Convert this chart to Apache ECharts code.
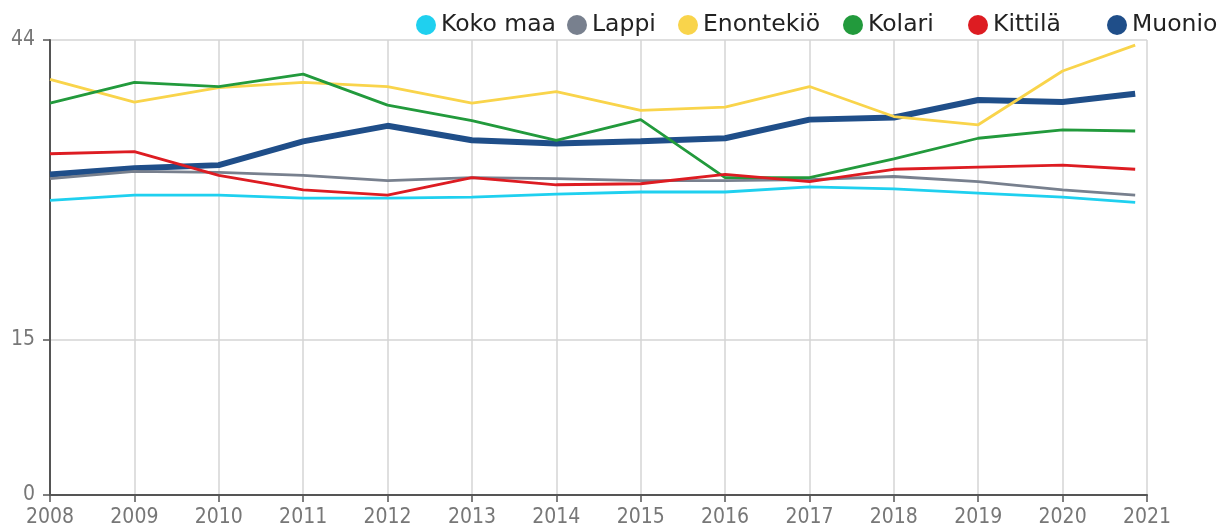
<!DOCTYPE html>
<html>
<head>
<meta charset="utf-8">
<script src="https://cdn.jsdelivr.net/npm/echarts@6/dist/echarts.min.js"></script>
<style>
  html, body { margin: 0; padding: 0; background: #fff; }
  #chart { width: 1229px; height: 528px; }
</style>
</head>
<body>
<div id="chart"></div>
<script>
// vuodet (akselin tikit) ja datapisteiden x-arvot
const years = [2008, 2009, 2010, 2011, 2012, 2013, 2014, 2015, 2016, 2017, 2018, 2019, 2020, 2021];
const pointYears = [2008, 2009, 2010, 2011, 2012, 2013, 2014, 2015, 2016, 2017, 2018, 2019, 2020, 2020.86];
const yTicks = [0, 15, 44];

const kokoMaa   = [28.5, 29.0, 29.0, 28.7, 28.7, 28.8, 29.1, 29.3, 29.3, 29.8, 29.6, 29.2, 28.8, 28.3];
const lappi     = [30.6, 31.3, 31.2, 30.9, 30.4, 30.7, 30.6, 30.4, 30.4, 30.5, 30.8, 30.3, 29.5, 29.0];
const enontekio = [40.2, 38.0, 39.4, 39.9, 39.5, 37.9, 39.0, 37.2, 37.5, 39.5, 36.6, 35.8, 41.0, 43.5];
const kolari    = [37.9, 39.9, 39.5, 40.7, 37.7, 36.2, 34.3, 36.3, 30.7, 30.7, 32.5, 34.5, 35.3, 35.2];
const kittila   = [33.0, 33.2, 30.9, 29.5, 29.0, 30.7, 30.0, 30.1, 31.0, 30.3, 31.5, 31.7, 31.9, 31.5];
const muonio    = [31.0, 31.6, 31.9, 34.2, 35.7, 34.3, 34.0, 34.2, 34.5, 36.3, 36.5, 38.2, 38.0, 38.8];

const names = ['Koko maa', 'Lappi', 'Enontekiö', 'Kolari', 'Kittilä', 'Muonio'];
const colors = ['#1fd0ef', '#78808e', '#f9d44b', '#229a3c', '#dd1c22', '#1f4e89'];
const legendLeft = [416, 567, 678, 843, 968, 1107];

const pairs = (vals) => vals.map((v, i) => [pointYears[i], v]);

const chart = echarts.init(document.getElementById('chart'));

const axisFont = "'DejaVu Sans Condensed', 'DejaVu Sans', sans-serif";

// yksi legenda per sarja, jotta välit vastaavat kuvaa
const legends = names.map((n, i) => ({
  data: [n],
  left: legendLeft[i],
  top: 13,
  padding: 0,
  icon: 'circle',
  itemWidth: 20,
  itemHeight: 20,
  selectedMode: false,
  textStyle: {
    fontFamily: 'DejaVu Sans',
    fontSize: 23.5,
    lineHeight: 20,
    color: '#222'
  }
}));

const lineSeries = (name, vals, color, width, z) => ({
  name: name,
  type: 'line',
  data: pairs(vals),
  symbol: 'none',
  color: color,
  lineStyle: { color: color, width: width },
  z: z,
  animation: false
});

const option = {
  backgroundColor: '#fff',
  legend: legends,
  grid: { left: 50, right: 82, top: 40, bottom: 33 },
  xAxis: {
    type: 'value',
    min: years[0],
    max: years[years.length - 1],
    interval: 1,
    axisLine: { lineStyle: { color: '#555', width: 2 } },
    axisTick: { show: true, length: 7, lineStyle: { color: '#555', width: 1.5 } },
    axisLabel: {
      formatter: (v) => String(v),
      fontFamily: axisFont,
      fontSize: 21,
      color: '#777',
      margin: 12
    },
    splitLine: { show: true, lineStyle: { color: '#d4d4d4', width: 1.5 } }
  },
  yAxis: {
    type: 'value',
    min: 0,
    max: 44,
    axisLine: { show: true, lineStyle: { color: '#555', width: 2 } },
    axisTick: { show: true, length: 7, customValues: yTicks, lineStyle: { color: '#555', width: 1.5 } },
    axisLabel: {
      customValues: yTicks,
      fontFamily: axisFont,
      fontSize: 21,
      color: '#777',
      margin: 15
    },
    splitLine: { show: true, lineStyle: { color: '#d4d4d4', width: 1.5 } }
  },
  series: [
    lineSeries(names[5], muonio, colors[5], 6, 2),
    lineSeries(names[0], kokoMaa, colors[0], 2.8, 3),
    lineSeries(names[1], lappi, colors[1], 2.8, 3),
    lineSeries(names[2], enontekio, colors[2], 2.8, 3),
    lineSeries(names[3], kolari, colors[3], 2.8, 3),
    lineSeries(names[4], kittila, colors[4], 2.8, 3)
  ]
};

chart.setOption(option);
</script>
</body>
</html>
